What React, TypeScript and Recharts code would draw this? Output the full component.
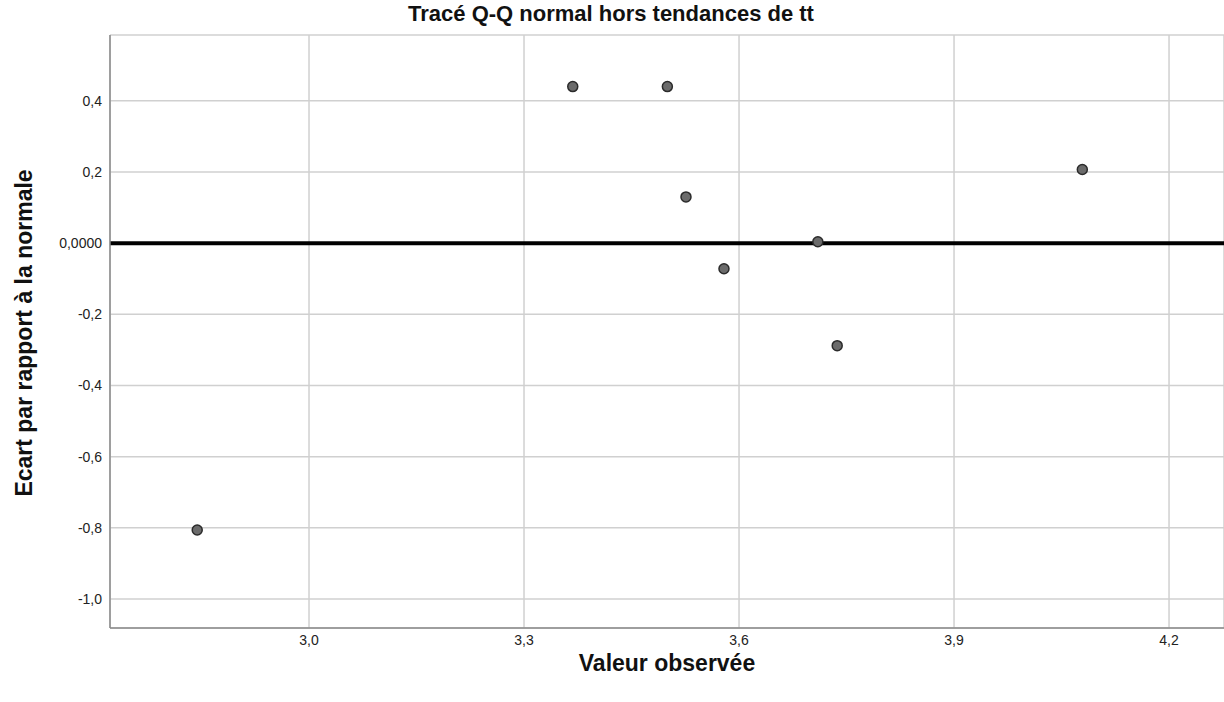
import React from 'react';
import {
  ScatterChart,
  Scatter,
  XAxis,
  YAxis,
  CartesianGrid,
  ReferenceLine,
  Label,
} from 'recharts';

// valeurs
const observedValues = [2.844, 3.368, 3.5, 3.526, 3.579, 3.71, 3.737, 4.079];
const deviations = [-0.806, 0.44, 0.44, 0.13, -0.072, 0.004, -0.288, 0.207];

const xTicks = [3.0, 3.3, 3.6, 3.9, 4.2];
const yTicks = [-1.0, -0.8, -0.6, -0.4, -0.2, 0, 0.2, 0.4];

const points = observedValues.map((v, i) => ({ x: v, y: deviations[i] }));

const FONT = '"Liberation Sans", Arial, sans-serif';

const fmtX = (v: number) => v.toFixed(1).replace('.', ',');
const fmtY = (v: number) =>
  Math.abs(v) < 1e-9 ? '0,0000' : v.toFixed(1).replace('.', ',');

const Dot = (props: any) => {
  const { cx, cy } = props;
  return (
    <circle cx={cx} cy={cy} r={5} fill="#6b6b6b" stroke="#2b2b2b" strokeWidth={1.5} />
  );
};

const YTitle = (props: any) => (
  <text
    x={24}
    y={333}
    transform="rotate(-90, 24, 333)"
    textAnchor="middle"
    dominantBaseline="central"
    fontFamily={FONT}
    fontWeight={700}
    fontSize={23}
    fill="#111"
  >
    Ecart par rapport à la normale
  </text>
);

export default function App() {
  return (
    <div style={{ position: 'absolute', left: 0, top: 0, width: 1224, height: 702, background: '#fff' }}>
      <div
        style={{
          position: 'absolute',
          left: 0,
          width: 1222,
          top: 0,
          lineHeight: '28px',
          textAlign: 'center',
          fontFamily: FONT,
          fontWeight: 700,
          fontSize: 22,
          color: '#111',
        }}
      >
        Tracé Q-Q normal hors tendances de tt
      </div>
      <ScatterChart
        width={1224}
        height={702}
        margin={{ top: 35, right: 0, bottom: 0, left: 0 }}
        style={{ fontFamily: FONT }}
      >
        <CartesianGrid stroke="#d0d0d0" strokeWidth={1.5} />
        <XAxis
          type="number"
          dataKey="x"
          domain={[2.7223, 4.2767]}
          ticks={xTicks}
          tickFormatter={fmtX}
          allowDataOverflow
          height={74}
          tickLine={false}
          tickMargin={1}
          axisLine={{ stroke: '#8a8a8a', strokeWidth: 1.5 }}
          tick={{ fill: '#222', fontSize: 14 }}
        >
          <Label
            value="Valeur observée"
            position="insideBottom"
            offset={31}
            style={{ fontFamily: FONT, fontWeight: 700, fontSize: 23, fill: '#111' }}
          />
        </XAxis>
        <YAxis
          type="number"
          dataKey="y"
          domain={[-1.0815, 0.585]}
          ticks={yTicks}
          tickFormatter={fmtY}
          allowDataOverflow
          width={110}
          tickLine={false}
          tickMargin={2}
          axisLine={{ stroke: '#8a8a8a', strokeWidth: 1.5 }}
          tick={{ fill: '#222', fontSize: 14 }}
        >
          <Label content={<YTitle />} />
        </YAxis>
        <ReferenceLine y={0} stroke="#000" strokeWidth={4} />
        <Scatter data={points} shape={<Dot />} isAnimationActive={false} />
      </ScatterChart>
    </div>
  );
}
